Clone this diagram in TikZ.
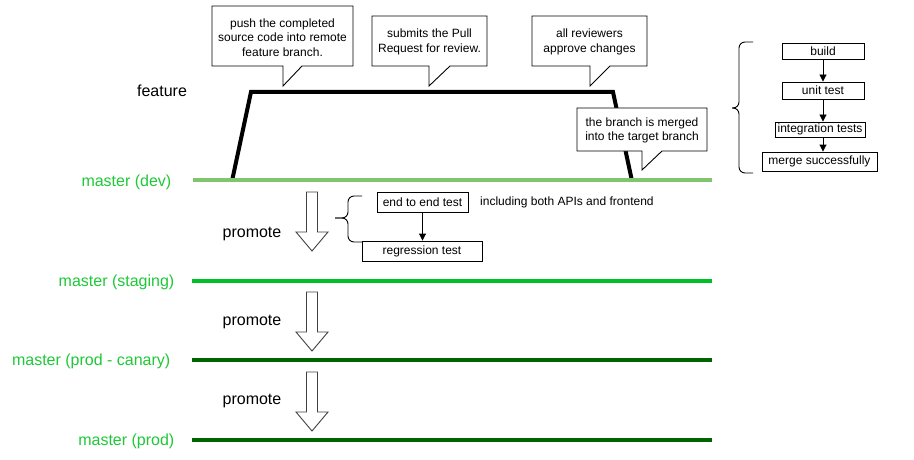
\documentclass[tikz,border=0pt]{standalone}
\usepackage{fontspec}
\setmainfont{Liberation Sans}
\usetikzlibrary{arrows.meta}
\definecolor{devline}{RGB}{128,196,110}
\definecolor{stageline}{RGB}{0,192,40}
\definecolor{prodline}{RGB}{0,100,0}
\definecolor{lbl}{RGB}{30,200,55}
\tikzset{
  big/.style={font=\fontsize{16}{19}\selectfont, inner sep=0pt},
  lab/.style={big, text=lbl, anchor=east},
  small/.style={font=\fontsize{12}{14.5}\selectfont, inner sep=0pt, align=center},
  box/.style={small, draw, line width=0.9pt, fill=white},
  branch/.style={line width=4pt},
  callout/.style={draw, line width=0.9pt, fill=white, line join=miter},
  flow/.style={line width=0.9pt, -{Triangle[width=7pt,length=7pt]}},
  promo/.style={draw=black!75, line width=0.9pt, fill=white},
  brace/.style={line width=0.9pt, rounded corners=6pt}
}
\begin{document}
\begin{tikzpicture}[x=1pt,y=-1pt]
\useasboundingbox (0,0) rectangle (914,460);
% feature branch
\draw[branch, line join=miter] (232,181) -- (251,92) -- (613,92) -- (632,181);
% master lines
\draw[branch, devline] (193,180) -- (712,180);
\draw[branch, stageline] (192,281) -- (712,281);
\draw[branch, prodline] (192,360) -- (712,360);
\draw[branch, prodline] (192,440) -- (712,440);
% labels
\node[big, anchor=center] (feat) at (162,91) {feature};
\node[lab] (ldev) at (171.5,182) {master (dev)};
\node[lab] (lstag) at (174.5,282) {master (staging)};
\node[lab] (lcan) at (170.5,361) {master (prod - canary)};
\node[lab] (lprod) at (174.5,441) {master (prod)};
% callouts
\draw[callout] (212,6) -- (353,6) -- (353,66) -- (302,66) -- (283,86) -- (283,66) -- (212,66) -- cycle;
\node[small] (c1) at (282.5,37.5) {push the completed\\source code into remote\\feature branch.};
\draw[callout] (372,16) -- (487,16) -- (487,66) -- (450,66) -- (429,86) -- (429,66) -- (372,66) -- cycle;
\node[small] (c2) at (429.5,42) {submits the Pull\\Request for review.};
\draw[callout] (532,16) -- (647,16) -- (647,66) -- (610,66) -- (590,86) -- (590,66) -- (532,66) -- cycle;
\node[small] (c3) at (589.5,42) {all reviewers\\approve changes};
\draw[callout] (577,108) -- (707,108) -- (707,151) -- (662,151) -- (642,170) -- (642,151) -- (577,151) -- cycle;
\node[small] (c4) at (642,130.5) {the branch is merged\\into the target branch};
% promote arrows
\foreach \t/\n in {192/1,292/2,372/3}{
  \draw[promo] (306.5,\t) -- (317.5,\t) -- (317.5,\t+40) -- (328,\t+40) -- (312,\t+59) -- (296,\t+40) -- (306.5,\t+40) -- cycle;
}
\node[big] (p1) at (252,234) {promote};
\node[big] (p2) at (252,322) {promote};
\node[big] (p3) at (252,401) {promote};
% test stage between dev and staging
\draw[brace] (362,196) -- (348,196) -- (348,218) -- (335,218);
\draw[brace] (362,242) -- (348,242) -- (348,218) -- (335,218);
\node[box, minimum width=91pt, minimum height=20pt] (e2e) at (422.5,202) {end to end test};
\node[box, minimum width=120pt, minimum height=20pt] (reg) at (422,251) {regression test};
\node[small, anchor=west] (incl) at (480,202) {including both APIs and frontend};
\draw[flow] (e2e.south) -- (e2e.south |- reg.north);
% CI pipeline
\draw[brace] (753,42) -- (739,42) -- (739,108) -- (732,108);
\draw[brace] (753,173) -- (739,173) -- (739,108) -- (732,108);
\node[box, minimum width=82pt, minimum height=16pt] (build) at (823,51) {build};
\node[box, minimum width=82pt, minimum height=17pt] (unit) at (823,90.5) {unit test};
\node[box, minimum width=90pt, minimum height=15pt] (integ) at (820,129.5) {integration tests};
\node[box, minimum width=115pt, minimum height=19pt] (merge) at (819.5,161.5) {merge successfully};
\draw[flow] (build.south) -- (unit.north);
\draw[flow] (unit.south) -- (unit.south |- integ.north);
\draw[flow] (integ.south -| unit.south) -- (unit.south |- merge.north);
\end{tikzpicture}
\end{document}
